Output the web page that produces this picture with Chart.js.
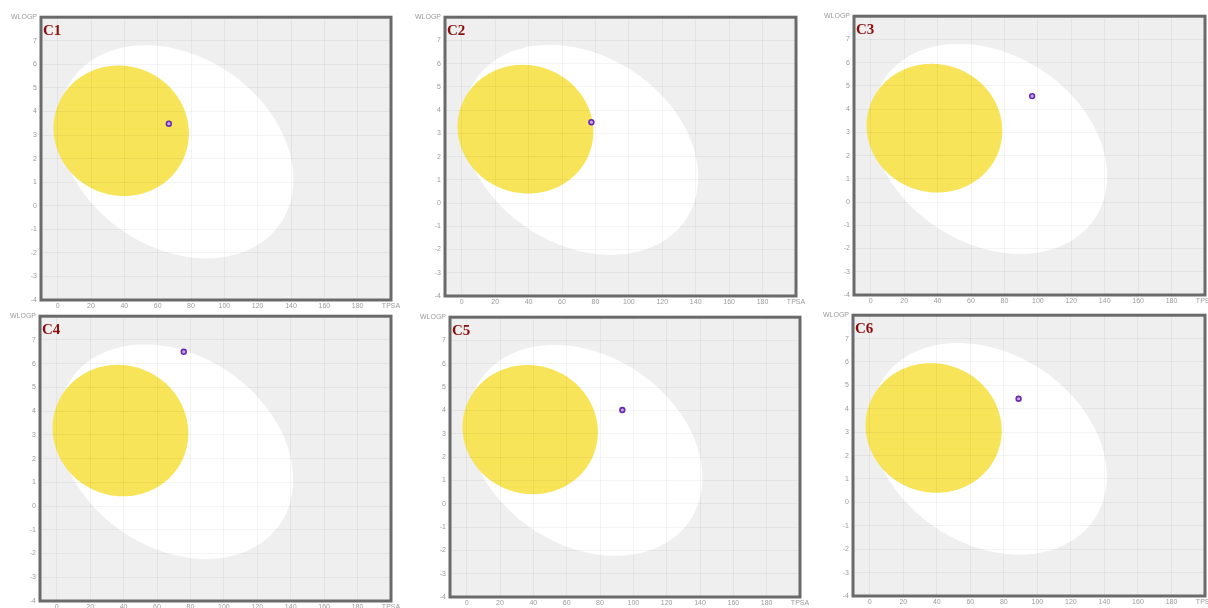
<!DOCTYPE html>
<html>
<head>
<meta charset="utf-8">
<title>BOILED-Egg plots C1–C6</title>
<script src="https://cdn.jsdelivr.net/npm/chart.js@4.4.1/dist/chart.umd.min.js"></script>
<style>
  html, body { margin: 0; padding: 0; background: #ffffff; width: 1208px; height: 608px; overflow: hidden; position: relative; }
  canvas { position: absolute; }
</style>
</head>
<body>
<script>
// ---- data ----
const panelNames = ['C1', 'C2', 'C3', 'C4', 'C5', 'C6'];
const pointTPSA  = [66.7, 77.6, 96.6, 76.0, 93.4, 88.8];
const pointWLOGP = [3.48, 3.48, 4.56, 6.50, 4.02, 4.43];

const tpsaTicks  = [0, 20, 40, 60, 80, 100, 120, 140, 160, 180, 200];
const wlogpTicks = [-4, -3, -2, -1, 0, 1, 2, 3, 4, 5, 6, 7, 8];
const tpsaRange  = [-10, 200];
const wlogpRange = [-4, 8];

// regions: [centre TPSA, centre WLOGP, half-width TPSA, half-height WLOGP, skew]
const hiaEllipse = [71.05, 2.29, 70.4, 4.52, -0.26];   // white
const bbbEllipse = [38.12, 3.18, 40.6, 2.77, -0.04];   // yolk

// ---- layout: plot-area box per panel (left, top, right, bottom) ----
const panelBoxes = [
  [41, 17, 391, 300], [445, 17, 796, 296], [854, 16, 1205, 295],
  [40, 316, 391, 601], [450, 317, 800, 597], [853, 315, 1205, 596]
];
const AXIS_W = 40, AXIS_H = 14, PAD_TOP = 8, PAD_RIGHT = 14;

Chart.defaults.font.family = '"Liberation Sans", Arial, sans-serif';

function fillRegion(ctx, xs, ys, e, color) {
  const [cx, cy, ax, by, s] = e;
  const phi = Math.asin(s);
  ctx.beginPath();
  for (let i = 0; i <= 240; i++) {
    const t = i / 240 * Math.PI * 2;
    const px = xs.getPixelForValue(cx + ax * Math.cos(t));
    const py = ys.getPixelForValue(cy + by * Math.sin(t + phi));
    if (i === 0) ctx.moveTo(px, py); else ctx.lineTo(px, py);
  }
  ctx.closePath();
  ctx.fillStyle = color;
  ctx.fill();
}

const eggPlugin = {
  id: 'egg',
  beforeDraw(chart) {
    const { ctx, chartArea: a } = chart;
    ctx.save();
    ctx.fillStyle = '#efefef';
    ctx.fillRect(a.left, a.top, a.right - a.left, a.bottom - a.top);
    ctx.restore();
  },
  beforeDatasetsDraw(chart) {
    const { ctx, chartArea: a, scales } = chart;
    ctx.save();
    ctx.beginPath();
    ctx.rect(a.left, a.top, a.right - a.left, a.bottom - a.top);
    ctx.clip();
    fillRegion(ctx, scales.x, scales.y, hiaEllipse, '#ffffff');
    fillRegion(ctx, scales.x, scales.y, bbbEllipse, 'rgb(247,228,88)');
    ctx.restore();
  },
  afterDraw(chart, args, opts) {
    const { ctx, chartArea: a } = chart;
    ctx.save();
    ctx.strokeStyle = '#6a6a6a';
    ctx.lineWidth = 3;
    ctx.strokeRect(a.left, a.top, a.right - a.left, a.bottom - a.top);
    ctx.fillStyle = '#8b0c0c';
    ctx.font = 'bold 15px "Liberation Serif", "Times New Roman", serif';
    ctx.textBaseline = 'alphabetic';
    ctx.fillText(opts.label, a.left + 2, a.top + 18);
    ctx.restore();
  }
};

panelNames.forEach((name, i) => {
  const [L, T, R, B] = panelBoxes[i];
  const cv = document.createElement('canvas');
  cv.width = (R - L) + AXIS_W + PAD_RIGHT;
  cv.height = (B - T) + PAD_TOP + AXIS_H;
  cv.style.left = (L - AXIS_W) + 'px';
  cv.style.top = (T - PAD_TOP) + 'px';
  cv.style.width = cv.width + 'px';
  cv.style.height = cv.height + 'px';
  document.body.appendChild(cv);

  new Chart(cv, {
    type: 'scatter',
    data: {
      datasets: [{
        label: name,
        data: [{ x: pointTPSA[i], y: pointWLOGP[i] }],
        pointRadius: 2.4,
        borderWidth: 1.6,
        borderColor: '#6a2aae',
        backgroundColor: '#c9a8ec'
      }]
    },
    options: {
      responsive: false,
      animation: false,
      events: [],
      layout: { padding: { top: PAD_TOP, right: PAD_RIGHT, left: 0, bottom: 0 } },
      plugins: {
        legend: { display: false },
        tooltip: { enabled: false },
        egg: { label: name }
      },
      scales: {
        x: {
          type: 'linear',
          min: tpsaRange[0], max: tpsaRange[1],
          afterBuildTicks: s => { s.ticks = tpsaTicks.map(v => ({ value: v })); },
          afterFit: s => { s.height = AXIS_H; },
          border: { display: false },
          grid: { color: 'rgba(0,0,0,0.045)', z: 1, drawTicks: false },
          ticks: {
            callback: v => (v === tpsaTicks[tpsaTicks.length - 1] ? 'TPSA' : v),
            font: { size: 7 }, color: '#9a9a9a', padding: 2,
            maxRotation: 0, autoSkip: false
          }
        },
        y: {
          type: 'linear',
          min: wlogpRange[0], max: wlogpRange[1],
          afterBuildTicks: s => { s.ticks = wlogpTicks.map(v => ({ value: v })); },
          afterFit: s => { s.width = AXIS_W; },
          border: { display: false },
          grid: { color: 'rgba(0,0,0,0.045)', z: 1, drawTicks: false },
          ticks: {
            callback: v => (v === wlogpTicks[wlogpTicks.length - 1] ? 'WLOGP' : v),
            font: { size: 7 }, color: '#9a9a9a', padding: 4,
            autoSkip: false
          }
        }
      }
    },
    plugins: [eggPlugin]
  });
});
</script>
</body>
</html>
